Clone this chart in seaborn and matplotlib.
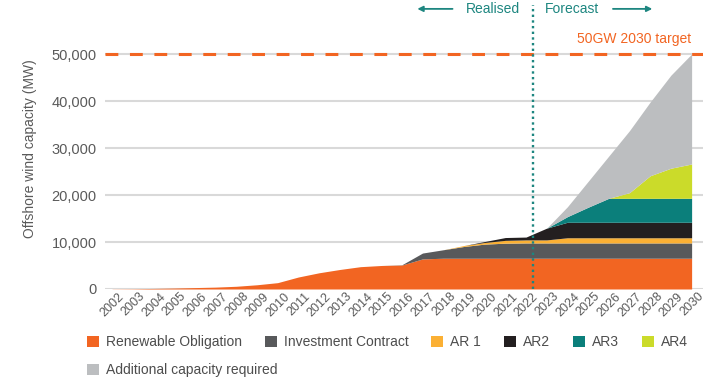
import matplotlib
matplotlib.use("Agg")
import matplotlib.pyplot as plt
import matplotlib.transforms as mtransforms
from matplotlib.patches import Patch
from matplotlib.ticker import FuncFormatter
import seaborn as sns

# --- data (MW) ---
years = list(range(2002, 2031))
renewable_obligation = [30, 60, 120, 200, 300, 400, 580, 900, 1350, 2550, 3450, 4150, 4750,
                        5000, 5100, 6400, 6550, 6550, 6550, 6550, 6550, 6550, 6550, 6550,
                        6550, 6550, 6550, 6550, 6550]
investment_contract = [0] * 14 + [50, 1250, 1800, 2500, 3000, 3200] + [3250] * 9
ar1 = [0] * 17 + [200, 350, 600, 650, 650] + [1100] * 7
ar2 = [0] * 18 + [200, 600, 600, 2500] + [3300] * 7
ar3 = [0] * 22 + [1200, 3200] + [5100] * 5
ar4 = [0] * 25 + [1200, 4800, 6400, 7300]
additional = [0] * 22 + [2100, 5500, 9000, 13200, 15700, 19800, 23400]

series_labels = ["Renewable Obligation", "Investment Contract", "AR 1", "AR2", "AR3", "AR4",
                 "Additional capacity required"]
series_colors = ["#F26522", "#58595B", "#FBB034", "#231F20", "#0B7F7B", "#CBDB2A", "#BCBEC0"]

target_mw = 50000
target_label = "50GW 2030 target"
divide_year = 2022.35
y_ticks = [0, 10000, 20000, 30000, 40000, 50000]

# --- style ---
sns.set_theme(style="white")
plt.rcParams["font.family"] = ["Liberation Sans", "DejaVu Sans"]
teal = "#1D8680"
grey_text = "#5A5A5A"
orange = "#F26522"

W, H = 706, 380
fig = plt.figure(figsize=(W / 100, H / 100), dpi=100)
ax = fig.add_axes([105 / W, 1 - 289 / H, 598 / W, 289 / H])

ax.stackplot(years, renewable_obligation, investment_contract, ar1, ar2, ar3, ar4, additional,
             colors=series_colors, linewidth=0, zorder=3)

ax.set_xlim(2001.66, 2030.55)
ax.set_ylim(0, 61490)
ax.set_yticks(y_ticks)
ax.yaxis.set_major_formatter(FuncFormatter(lambda v, p: f"{int(v):,}"))
ax.set_xticks(years)
ax.set_xticklabels([str(y) for y in years])

for v in y_ticks:
    ax.axhline(v, color="#D9D9D9", lw=1.5, zorder=1)

# target line and divider
ax.axhline(target_mw, color=orange, lw=2.2, dashes=(4.2, 3.8), zorder=5)
ax.plot([divide_year, divide_year], [0, 60400], color=teal, lw=1.7,
        dashes=(1, 1.4), zorder=6)

ax.text(2030, 51800, target_label, color=orange, fontsize=10, ha="right", va="bottom")
ax.text(divide_year - 0.62, 59600, "Realised", color=teal, fontsize=10, ha="right", va="center")
ax.text(divide_year + 0.55, 59600, "Forecast", color=teal, fontsize=10, ha="left", va="center")
arrow_kw = dict(arrowstyle="-|>", color=teal, lw=1.3, mutation_scale=8, shrinkA=0, shrinkB=0)
ax.annotate("", xy=(divide_year - 5.6, 59600), xytext=(divide_year - 3.9, 59600), arrowprops=arrow_kw)
ax.annotate("", xy=(divide_year + 5.75, 59600), xytext=(divide_year + 3.85, 59600), arrowprops=arrow_kw)

# axes cosmetics
sns.despine(ax=ax, left=True, bottom=True)
ax.tick_params(axis="both", length=0, colors=grey_text)
ax.tick_params(axis="y", labelsize=10.5, pad=6)
ax.tick_params(axis="x", labelsize=9, pad=1)
offset = mtransforms.ScaledTranslation(6 / 100, 0, fig.dpi_scale_trans)
for lab in ax.get_xticklabels():
    lab.set_rotation(45)
    lab.set_ha("right")
    lab.set_va("top")
    lab.set_rotation_mode("anchor")
    lab.set_transform(lab.get_transform() + offset)

ax.set_ylabel("Offshore wind capacity (MW)", fontsize=10, color=grey_text)
ax.yaxis.set_label_coords(-68 / 598, 0.484)

# legend: two rows
handles = [Patch(facecolor=c, edgecolor="none", label=l) for c, l in zip(series_colors, series_labels)]
leg_kw = dict(frameon=False, fontsize=10, handlelength=0.86, handleheight=0.86, handletextpad=0.5,
              columnspacing=1.65, borderpad=0, borderaxespad=0, labelcolor="#4D4D4D", loc="upper left")
fig.legend(handles=handles[:6], ncol=6, bbox_to_anchor=(87 / W, 1 - 335 / H), **leg_kw)
fig.legend(handles=handles[6:], ncol=1, bbox_to_anchor=(87 / W, 1 - 363 / H), **leg_kw)

fig.savefig("out.png", dpi=100)
